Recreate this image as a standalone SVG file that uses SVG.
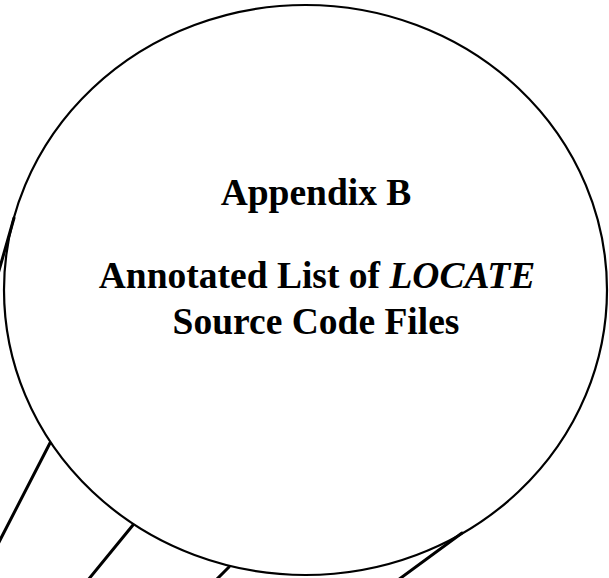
<svg xmlns="http://www.w3.org/2000/svg" width="609" height="578" viewBox="0 0 609 578">
<style>
.outline{fill:none;stroke:#000;stroke-width:2.2}
.spoke{fill:none;stroke:#000;stroke-width:3;stroke-linecap:round}
.title{font-family:"Liberation Serif","Times New Roman",serif;font-weight:bold;font-size:37.5px;fill:#000;text-anchor:middle}
.it{font-style:italic}
</style>
<rect width="609" height="578" fill="#fff"/>
<g id="connectors">
<line class="spoke" x1="14" y1="218" x2="-2" y2="274"/>
<line class="spoke" x1="50" y1="443" x2="-2" y2="544"/>
<line class="spoke" x1="133" y1="525" x2="88" y2="580"/>
<line class="spoke" x1="229" y1="567" x2="216" y2="580"/>
<line class="spoke" x1="462" y1="533" x2="398" y2="580"/>
</g>
<g id="appendix-node">
<ellipse class="outline" cx="305.5" cy="290" rx="301.5" ry="285"/>
<text class="title" x="316" y="205">Appendix B</text>
<text class="title" x="317" y="288">Annotated List of <tspan class="it">LOCATE</tspan></text>
<text class="title" x="316" y="334">Source Code Files</text>
</g>
</svg>
